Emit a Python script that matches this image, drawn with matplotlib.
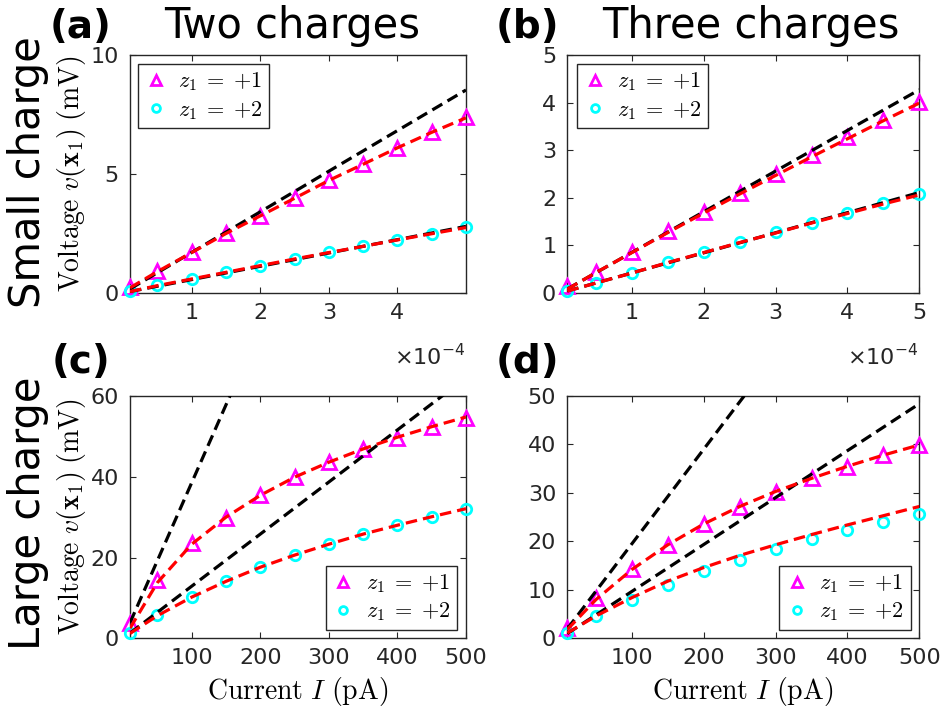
import matplotlib
matplotlib.use('Agg')
import matplotlib.pyplot as plt

plt.rcParams['font.family'] = ['DejaVu Sans']
plt.rcParams['mathtext.fontset'] = 'cm'

# 数据：电流 (上排单位 1e-4，下排单位 pA)
I_small = [0.1, 0.5, 1, 1.5, 2, 2.5, 3, 3.5, 4, 4.5, 5]
I_large = [10, 50, 100, 150, 200, 250, 300, 350, 400, 450, 500]

# (a) 两个电荷，小电荷
a_z1 = [0.25, 0.91, 1.72, 2.52, 3.24, 3.99, 4.76, 5.41, 6.11, 6.76, 7.38]
a_z2 = [0.07, 0.32, 0.59, 0.87, 1.15, 1.43, 1.71, 1.96, 2.24, 2.49, 2.76]
a_fit_z1 = [0.22, 0.90, 1.70, 2.50, 3.24, 3.98, 4.73, 5.41, 6.10, 6.75, 7.36]
a_fit_z2 = [0.06, 0.31, 0.59, 0.87, 1.15, 1.43, 1.70, 1.96, 2.23, 2.49, 2.75]
a_lin_z1 = [0.17, 8.53]
a_lin_z2 = [0.06, 2.80]

# (b) 三个电荷，小电荷
b_z1 = [0.14, 0.45, 0.87, 1.31, 1.71, 2.10, 2.50, 2.89, 3.27, 3.64, 4.01]
b_z2 = [0.05, 0.21, 0.43, 0.65, 0.86, 1.07, 1.28, 1.48, 1.69, 1.89, 2.08]
b_fit_z1 = [0.08, 0.43, 0.85, 1.27, 1.68, 2.08, 2.47, 2.86, 3.24, 3.62, 3.99]
b_fit_z2 = [0.04, 0.21, 0.42, 0.64, 0.85, 1.06, 1.26, 1.47, 1.67, 1.87, 2.06]
b_lin_z1 = [0.085, 4.27]
b_lin_z2 = [0.042, 2.11]

# (c) 两个电荷，大电荷
c_z1 = [3.7, 14.4, 23.5, 29.9, 35.5, 39.9, 43.6, 46.8, 49.7, 52.4, 54.6]
c_z2 = [1.4, 5.8, 10.3, 14.3, 17.7, 20.6, 23.3, 25.8, 28.1, 30.0, 32.0]
c_fit_z1 = [2.5, 13.8, 23.3, 30.0, 35.4, 39.9, 43.6, 46.9, 49.8, 52.4, 54.8]
c_fit_z2 = [1.2, 5.6, 10.2, 14.1, 17.6, 20.6, 23.3, 25.8, 28.0, 30.1, 32.1]
c_lin_z1 = [3.85, 192.7]
c_lin_z2 = [1.29, 64.5]

# (d) 三个电荷，大电荷
d_z1 = [2.2, 8.3, 14.2, 19.3, 23.6, 27.0, 30.1, 33.0, 35.4, 37.8, 39.9]
d_z2 = [1.0, 4.5, 8.0, 11.0, 13.9, 16.2, 18.4, 20.4, 22.4, 24.1, 25.7]
d_fit_z1 = [1.8, 8.0, 14.2, 19.3, 23.6, 27.2, 30.3, 33.0, 35.5, 37.8, 39.9]
d_fit_z2 = [1.1, 4.6, 8.4, 11.8, 14.6, 17.1, 19.3, 21.4, 23.4, 25.3, 27.2]
d_lin_z1 = [1.95, 97.6]
d_lin_z2 = [0.97, 48.4]

lin_small_x = [0.1, 5]
lin_large_x = [10, 500]

W, H = 944, 713
AX_COLOR = '#262626'


def draw_panel(ax, x, z1, z2, fit1, fit2, lin_x, lin1, lin2,
               xlim, ylim, xticks, yticks, loc, anchor):
    dash = (0, (3.6, 1.9))
    # 数据点 (不裁剪，和 MATLAB 一样)
    h1, = ax.plot(x, z1, linestyle='none', marker='^', ms=10.5, mew=2,
                  mec='#ff00ff', mfc='none', clip_on=False, zorder=3,
                  label=r'$z_1 \;=\; {+1}$')
    h2, = ax.plot(x, z2, linestyle='none', marker='o', ms=7.5, mew=2,
                  mec='#00ffff', mfc='none', clip_on=False, zorder=3,
                  label=r'$z_1 \;=\; {+2}$')
    # 线性近似 (黑) 与模型 (红)
    ax.plot(lin_x, lin1, color='black', lw=2.3, linestyle=dash, zorder=4)
    ax.plot(lin_x, lin2, color='black', lw=2.3, linestyle=dash, zorder=4)
    ax.plot(x, fit1, color='red', lw=2.3, linestyle=dash, zorder=4)
    ax.plot(x, fit2, color='red', lw=2.3, linestyle=dash, zorder=4)

    ax.set_xlim(xlim)
    ax.set_ylim(ylim)
    ax.set_xticks(xticks)
    ax.set_yticks(yticks)
    ax.tick_params(direction='in', length=4, width=0.8, top=True, right=True,
                   labelsize=16, colors=AX_COLOR)
    ax.tick_params(axis='x', pad=7)
    ax.tick_params(axis='y', pad=8)
    for s in ax.spines.values():
        s.set_color(AX_COLOR)
        s.set_linewidth(1.0)

    leg = ax.legend(handles=[h1, h2], loc=loc, bbox_to_anchor=anchor,
                    borderaxespad=0, fontsize=16, fancybox=False,
                    framealpha=1, edgecolor=AX_COLOR, handlelength=1.0,
                    handletextpad=0.5, labelspacing=0.25, borderpad=0.3,
                    markerscale=0.75)
    leg.get_frame().set_linewidth(1.0)
    leg.set_zorder(10)


fig = plt.figure(figsize=(W / 100, H / 100), dpi=100)


def add_axes(left, top, right, bottom):
    return fig.add_axes([left / W, 1 - bottom / H, (right - left) / W, (bottom - top) / H])


ax_a = add_axes(130, 55, 466, 293)
ax_b = add_axes(567.3, 55, 919.3, 293)
ax_c = add_axes(130, 396, 466, 638.3)
ax_d = add_axes(567.3, 396, 919.3, 638.3)

draw_panel(ax_a, I_small, a_z1, a_z2, a_fit_z1, a_fit_z2, lin_small_x, a_lin_z1, a_lin_z2,
           (0.1, 5), (0, 10), [1, 2, 3, 4], [0, 5, 10], 'upper left', (0.024, 0.962))
draw_panel(ax_b, I_small, b_z1, b_z2, b_fit_z1, b_fit_z2, lin_small_x, b_lin_z1, b_lin_z2,
           (0.1, 5), (0, 5), [1, 2, 3, 4, 5], [0, 1, 2, 3, 4, 5], 'upper left', (0.027, 0.962))
draw_panel(ax_c, I_large, c_z1, c_z2, c_fit_z1, c_fit_z2, lin_large_x, c_lin_z1, c_lin_z2,
           (10, 500), (0, 60), [100, 200, 300, 400, 500], [0, 20, 40, 60], 'lower right', (0.973, 0.034))
draw_panel(ax_d, I_large, d_z1, d_z2, d_fit_z1, d_fit_z2, lin_large_x, d_lin_z1, d_lin_z2,
           (10, 500), (0, 50), [100, 200, 300, 400, 500], [0, 10, 20, 30, 40, 50], 'lower right', (0.9756, 0.034))


def ftext(x, y, s, **kw):
    fig.text(x / W, 1 - y / H, s, **kw)


# 面板标签和标题
ftext(81, 38, '(a)', fontsize=28, fontweight='bold', ha='center', va='baseline')
ftext(527, 38, '(b)', fontsize=28, fontweight='bold', ha='center', va='baseline')
ftext(81, 373, '(c)', fontsize=28, fontweight='bold', ha='center', va='baseline')
ftext(527, 373, '(d)', fontsize=28, fontweight='bold', ha='center', va='baseline')
ftext(292, 38, 'Two charges', fontsize=30, ha='center', va='baseline')
ftext(751, 38, 'Three charges', fontsize=30, ha='center', va='baseline')

# 行标签
ftext(28, 172, 'Small charge', fontsize=30, rotation=90, ha='center', va='center')
ftext(28, 513, 'Large charge', fontsize=30, rotation=90, ha='center', va='center')

# 坐标轴标签
ylab = r'$\mathrm{Voltage}\ v(\mathbf{x}_1)\ \mathrm{(mV)}$'
ftext(72, 174, ylab, fontsize=20, rotation=90, ha='center', va='center')
ftext(72, 517, ylab, fontsize=20, rotation=90, ha='center', va='center')
xlab = r'$\mathrm{Current}\ I\ \mathrm{(pA)}$'
ftext(298, 692, xlab, fontsize=20, ha='center', va='center')
ftext(743, 692, xlab, fontsize=20, ha='center', va='center')

# x 轴指数
ftext(466, 365, '×10$^{\\mathregular{-4}}$', fontsize=16, color=AX_COLOR, ha='right', va='baseline')
ftext(919, 365, '×10$^{\\mathregular{-4}}$', fontsize=16, color=AX_COLOR, ha='right', va='baseline')

fig.savefig('out.png', dpi=100)
